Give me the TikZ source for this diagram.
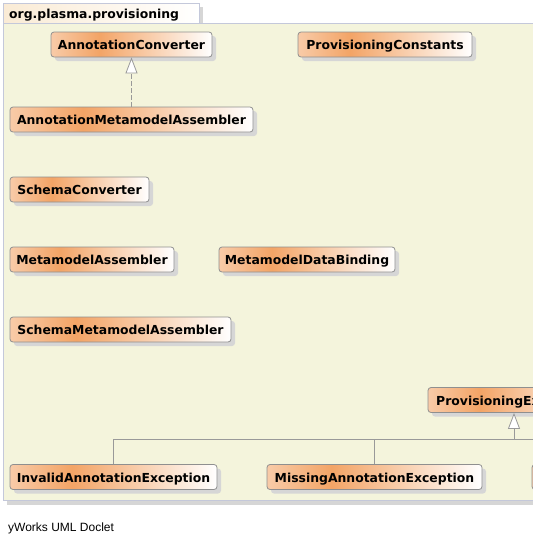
\documentclass[tikz,border=0pt]{standalone}
\usepackage{fontspec}
\setmainfont{DejaVu Sans}
\newfontfamily\footfont{Liberation Sans}
\usetikzlibrary{arrows.meta,shadows}
\definecolor{gA}{HTML}{F8CBA8}
\definecolor{gB}{HTML}{F3A466}
\definecolor{nodeborder}{HTML}{8F8F8F}
\definecolor{shadowgray}{HTML}{D6D6D6}
\definecolor{pkgfill}{HTML}{F4F4DC}
\definecolor{pkgborder}{HTML}{C4C8DA}
\definecolor{tabA}{HTML}{FAEBD5}
\definecolor{linegray}{HTML}{999999}
\pgfdeclarehorizontalshading{umlgrad}{100bp}{color(0bp)=(gA); color(25bp)=(gA); color(40bp)=(gB); color(75bp)=(white); color(100bp)=(white)}
\begin{document}
\begin{tikzpicture}[x=1pt,y=-1pt,
  cls/.style={draw=nodeborder, line width=0.8pt, rounded corners=3pt,
    shade, shading=umlgrad, minimum height=25pt, inner sep=0pt,
    text height=10pt, text depth=0pt,
    font=\bfseries\fontsize{12.4}{14}\selectfont,
    drop shadow={shadow xshift=4pt, shadow yshift=-4pt, fill=shadowgray, opacity=1}},
  conn/.style={draw=linegray, line width=0.8pt},
  gen/.style={conn, -{Triangle[open, length=16pt, width=12pt, fill=white]}}
]
\useasboundingbox (0,0) rectangle (533,544);
\clip (0,0) rectangle (533,544);
% package
\fill[shadowgray] (7,500) rectangle (545,505);
\fill[shadowgray] (199,7) rectangle (203,23);
\shade[left color=tabA, right color=white, draw=pkgborder, line width=0.8pt] (3,3) rectangle (199,23);
\filldraw[fill=pkgfill, draw=pkgborder, line width=0.8pt] (3,23) rectangle (545,500);
\node[anchor=base west, inner sep=0pt, font=\bfseries\fontsize{12.4}{14}\selectfont] (pkg) at (9,18.5) {org.plasma.provisioning};
% classes
\node[cls, minimum width=161pt] (ac) at (131.5,44.5) {AnnotationConverter};
\node[cls, minimum width=174pt] (pc) at (385,44.5) {ProvisioningConstants};
\node[cls, minimum width=243pt] (ama) at (131.5,119.5) {AnnotationMetamodelAssembler};
\node[cls, minimum width=139pt] (sc) at (79.5,189.5) {SchemaConverter};
\node[cls, minimum width=164pt] (ma) at (92,259.5) {MetamodelAssembler};
\node[cls, minimum width=176pt] (mdb) at (307,259.5) {MetamodelDataBinding};
\node[cls, minimum width=221pt] (sma) at (120.5,329.5) {SchemaMetamodelAssembler};
\node[cls, minimum width=172pt] (pe) at (514,400) {ProvisioningException};
\node[cls, minimum width=207pt] (iae) at (113.5,477) {InvalidAnnotationException};
\node[cls, minimum width=215pt] (mae) at (374.5,477) {MissingAnnotationException};
\node[cls, minimum width=170pt] (x3) at (617,477) {};
% connectors
\draw[gen, dash pattern=on 5pt off 2pt] (ama.north) -- (ac.south);
\coordinate (bus) at (514,439);
\draw[conn] (iae.north) |- (bus);
\draw[conn] (mae.north) -- (mae.north |- bus);
\draw[conn] (x3.north) |- (bus);
\draw[gen] (bus) -- (pe.south);
% footer
\node[anchor=base west, inner sep=0pt, font=\footfont\fontsize{12}{14}\selectfont] (foot) at (8,531) {yWorks UML Doclet};
\end{tikzpicture}
\end{document}
